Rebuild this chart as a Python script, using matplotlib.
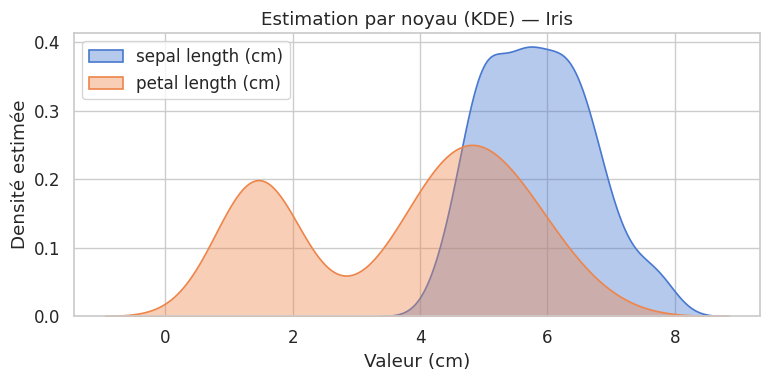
"""KDE des longueurs de sépale et de pétale (jeu de données Iris)."""

import matplotlib
matplotlib.use("Agg")
import matplotlib.pyplot as plt
import seaborn as sns

# Iris : sepal length (cm), 150 fleurs (setosa, versicolor, virginica)
sepal_length = [
    5.1, 4.9, 4.7, 4.6, 5.0, 5.4, 4.6, 5.0, 4.4, 4.9, 5.4, 4.8, 4.8, 4.3, 5.8,
    5.7, 5.4, 5.1, 5.7, 5.1, 5.4, 5.1, 4.6, 5.1, 4.8, 5.0, 5.0, 5.2, 5.2, 4.7,
    4.8, 5.4, 5.2, 5.5, 4.9, 5.0, 5.5, 4.9, 4.4, 5.1, 5.0, 4.5, 4.4, 5.0, 5.1,
    4.8, 5.1, 4.6, 5.3, 5.0,
    7.0, 6.4, 6.9, 5.5, 6.5, 5.7, 6.3, 4.9, 6.6, 5.2, 5.0, 5.9, 6.0, 6.1, 5.6,
    6.7, 5.6, 5.8, 6.2, 5.6, 5.9, 6.1, 6.3, 6.1, 6.4, 6.6, 6.8, 6.7, 6.0, 5.7,
    5.5, 5.5, 5.8, 6.0, 5.4, 6.0, 6.7, 6.3, 5.6, 5.5, 5.5, 6.1, 5.8, 5.0, 5.6,
    5.7, 5.7, 6.2, 5.1, 5.7,
    6.3, 5.8, 7.1, 6.3, 6.5, 7.6, 4.9, 7.3, 6.7, 7.2, 6.5, 6.4, 6.8, 5.7, 5.8,
    6.4, 6.5, 7.7, 7.7, 6.0, 6.9, 5.6, 7.7, 6.3, 6.7, 7.2, 6.2, 6.1, 6.4, 7.2,
    7.4, 7.9, 6.4, 6.3, 6.1, 7.7, 6.3, 6.4, 6.0, 6.9, 6.7, 6.9, 5.8, 6.8, 6.7,
    6.7, 6.3, 6.5, 6.2, 5.9,
]

# Iris : petal length (cm), même ordre
petal_length = [
    1.4, 1.4, 1.3, 1.5, 1.4, 1.7, 1.4, 1.5, 1.4, 1.5, 1.5, 1.6, 1.4, 1.1, 1.2,
    1.5, 1.3, 1.4, 1.7, 1.5, 1.7, 1.5, 1.0, 1.7, 1.9, 1.6, 1.6, 1.5, 1.4, 1.6,
    1.6, 1.5, 1.5, 1.4, 1.5, 1.2, 1.3, 1.4, 1.3, 1.5, 1.3, 1.3, 1.3, 1.6, 1.9,
    1.4, 1.6, 1.4, 1.5, 1.4,
    4.7, 4.5, 4.9, 4.0, 4.6, 4.5, 4.7, 3.3, 4.6, 3.9, 3.5, 4.2, 4.0, 4.7, 3.6,
    4.4, 4.5, 4.1, 4.5, 3.9, 4.8, 4.0, 4.9, 4.7, 4.3, 4.4, 4.8, 5.0, 4.5, 3.5,
    3.8, 3.7, 3.9, 5.1, 4.5, 4.5, 4.7, 4.4, 4.1, 4.0, 4.4, 4.6, 4.0, 3.3, 4.2,
    4.2, 4.2, 4.3, 3.0, 4.1,
    6.0, 5.1, 5.9, 5.6, 5.8, 6.6, 4.5, 6.3, 5.8, 6.1, 5.1, 5.3, 5.5, 5.0, 5.1,
    5.3, 5.5, 6.7, 6.9, 5.0, 5.7, 4.9, 6.7, 4.9, 5.7, 6.0, 4.8, 4.9, 5.6, 5.8,
    6.1, 6.4, 5.6, 5.1, 5.6, 6.1, 5.6, 5.5, 4.8, 5.4, 5.6, 5.1, 5.1, 5.9, 5.7,
    5.2, 5.0, 5.2, 5.4, 5.1,
]

series_labels = ["sepal length (cm)", "petal length (cm)"]


def main() -> None:
    sns.set_theme(style="whitegrid", palette="muted", font_scale=1.1)
    colors = sns.color_palette("muted")

    fig, ax = plt.subplots(figsize=(7.69, 3.8), dpi=100)
    for values, label, color in zip([sepal_length, petal_length], series_labels, colors):
        sns.kdeplot(x=values, ax=ax, fill=True, alpha=0.4, color=color,
                    linewidth=1.2, label=label)

    ax.set_title("Estimation par noyau (KDE) — Iris")
    ax.set_xlabel("Valeur (cm)")
    ax.set_ylabel("Densité estimée")
    ax.legend(loc="upper left")
    fig.subplots_adjust(left=0.096, right=0.988, top=0.913, bottom=0.168)
    fig.savefig("out.png", dpi=100)
    plt.close(fig)


if __name__ == "__main__":
    main()
